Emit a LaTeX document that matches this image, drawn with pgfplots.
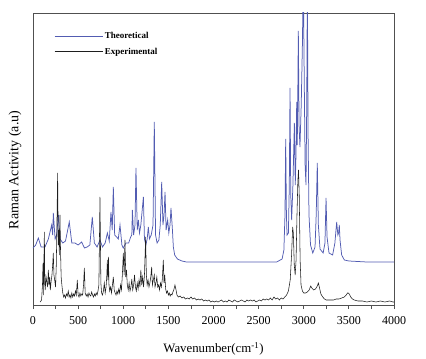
\documentclass[border=0pt]{standalone}
\usepackage{fontspec}
\setmainfont{Liberation Serif}
\usepackage{pgfplots}
\pgfplotsset{compat=1.18}
\definecolor{theo}{RGB}{82,92,178}
\definecolor{expc}{RGB}{30,30,30}
\definecolor{frame}{RGB}{80,80,80}
\begin{document}
\begin{tikzpicture}
\useasboundingbox (-33pt,-54pt) rectangle (393pt,305pt);
\begin{axis}[
  at={(0,0)}, anchor=south west,
  scale only axis, width=361pt, height=292pt,
  xmin=0, xmax=4000, ymin=0, ymax=292,
  axis line style={frame, line width=0.9pt},
  xtick={0,500,...,4000}, minor x tick num=1,
  xtick pos=bottom, ytick=\empty,
  tick align=outside, major tick length=4pt, minor tick length=4pt,
  tick style={frame, line width=0.8pt},
  /pgf/number format/assume math mode=true,
  /pgf/number format/1000 sep={},
  xticklabel style={font=\fontsize{12}{14}\selectfont, yshift=-4pt},
  xlabel={Wavenumber(cm\textsuperscript{-1})},
  xlabel style={font=\fontsize{12.8}{14}\selectfont, at={(axis description cs:0.5,0)}, anchor=center, yshift=-44pt},
  ylabel={Raman Activity (a.u)},
  ylabel style={font=\fontsize{14}{16}\selectfont, at={(axis description cs:0,0.5)}, anchor=center, yshift=18pt, xshift=-11pt},
  legend cell align=left,
  legend style={draw=none, fill=none, at={(axis description cs:0.058,0.942)}, anchor=north west,
    font=\bfseries\fontsize{9}{10}\selectfont, row sep=4pt, inner sep=0pt,
    /tikz/every even column/.append style={column sep=5pt}},
  legend image code/.code={\draw[#1] (0pt,0pt) -- (48pt,0pt);},
]
\addplot[theo, line width=0.75pt] coordinates {
(0,57) (30,60) (59,67) (90,58) (133,58) (170,66) (207,80) (218,70) (225,92) (245,66)
(262,70) (281,90) (300,66) (330,62) (360,64) (402,83) (430,62) (465,62) (500,60) (539,63)
(570,57) (600,58) (630,60) (657,88) (680,62) (710,58) (742,65) (770,58) (800,62) (824,72)
(845,64) (864,93) (878,75) (890,118) (905,70) (927,68) (945,66) (964,80) (985,60) (1000,57)
(1030,62) (1060,62) (1082,68) (1095,70) (1101,95) (1115,70) (1130,80) (1141,137) (1155,75) (1168,85)
(1180,72) (1195,80) (1210,95) (1223,108) (1235,66) (1250,60) (1265,66) (1278,78) (1290,66) (1310,70)
(1330,80) (1344,183) (1358,70) (1375,62) (1395,65) (1410,80) (1426,123) (1440,80) (1452,90) (1463,113)
(1475,75) (1492,85) (1505,72) (1518,80) (1529,97) (1545,75) (1555,58) (1570,50) (1600,46) (1650,44)
(1700,43) (2000,43) (2400,43) (2700,43) (2760,46) (2780,55) (2792,90) (2800,166) (2808,90) (2815,70)
(2830,72) (2840,120) (2848,217) (2856,110) (2866,85) (2880,120) (2896,182) (2906,120) (2914,150) (2922,203)
(2928,160) (2933,200) (2940,274) (2948,180) (2958,158) (2972,200) (2985,260) (2995,330) (3005,230) (3015,140)
(3025,120) (3033,200) (3040,320) (3048,170) (3058,90) (3075,60) (3100,52) (3125,58) (3138,90) (3150,142)
(3162,80) (3180,56) (3215,52) (3235,62) (3247,107) (3258,68) (3280,52) (3320,50) (3345,62) (3365,83)
(3378,70) (3386,72) (3394,80) (3402,65) (3420,50) (3450,45) (3500,44) (3700,43) (4000,43)
};
\addlegendentry{Theoretical}
\addplot[expc, line width=0.55pt] coordinates {
(80,3) (95,5) (105,20) (110,40) (114,42) (118,10) (122,50) (126,73) (130,30) (135,15)
(145,28) (155,22) (162,18) (170,35) (178,20) (185,28) (192,15) (200,23) (210,30) (218,40)
(225,52) (232,30) (240,25) (250,18) (258,40) (265,80) (273,132) (280,60) (286,75) (292,50)
(299,90) (305,55) (312,28) (320,20) (330,12) (340,8) (350,10) (360,7) (370,11) (380,9)
(391,14) (400,8) (410,10) (420,7) (430,12) (440,8) (450,11) (460,9) (470,14) (480,10)
(491,25) (500,10) (510,8) (520,12) (530,9) (540,11) (550,10) (560,20) (569,37) (578,12)
(590,9) (600,11) (610,8) (620,12) (630,10) (640,9) (650,13) (660,10) (670,8) (680,11)
(690,9) (700,12) (710,10) (720,14) (730,20) (742,108) (752,22) (760,12) (770,10) (780,14)
(790,22) (800,12) (810,18) (818,30) (824,45) (830,25) (836,48) (842,20) (850,14) (860,18)
(870,12) (880,20) (890,28) (900,15) (910,12) (920,10) (930,14) (940,11) (950,16) (960,12)
(970,20) (980,15) (990,30) (1001,52) (1010,30) (1019,65) (1028,28) (1036,35) (1045,20) (1055,15)
(1065,22) (1075,14) (1085,18) (1095,26) (1105,15) (1115,20) (1125,30) (1135,18) (1145,14) (1155,22)
(1165,16) (1175,25) (1185,18) (1195,35) (1205,20) (1215,28) (1225,18) (1235,30) (1248,68) (1256,30)
(1265,20) (1275,25) (1285,18) (1295,22) (1305,28) (1315,38) (1323,20) (1333,25) (1344,30) (1352,18)
(1362,22) (1372,28) (1382,18) (1392,20) (1402,15) (1412,22) (1422,18) (1432,25) (1444,45) (1452,22)
(1460,30) (1470,16) (1480,12) (1490,14) (1500,10) (1510,12) (1520,9) (1530,11) (1540,10) (1550,13)
(1560,15) (1573,20) (1585,15) (1595,10) (1610,8) (1630,9) (1650,7) (1670,8) (1690,6) (1710,7)
(1730,6) (1750,8) (1770,6) (1790,7) (1810,5) (1830,6) (1850,5) (1870,6) (1890,4) (1910,5)
(1930,4) (1950,5) (1970,3) (1990,4) (2010,3) (2030,4) (2050,3) (2070,4) (2090,5) (2110,3)
(2130,4) (2150,3) (2170,5) (2190,4) (2210,3) (2230,5) (2250,4) (2270,3) (2290,4) (2310,5)
(2330,4) (2350,3) (2370,5) (2390,4) (2410,5) (2430,4) (2450,5) (2470,3) (2490,4) (2510,5)
(2530,4) (2550,6) (2570,5) (2590,6) (2610,5) (2630,7) (2650,5) (2670,8) (2690,6) (2710,7)
(2730,5) (2750,7) (2770,6) (2790,8) (2810,10) (2830,14) (2850,25) (2865,50) (2877,78) (2885,72)
(2895,40) (2905,30) (2915,45) (2925,90) (2935,125) (2942,135) (2950,110) (2960,45) (2970,20) (2985,14)
(3000,12) (3020,12) (3040,13) (3060,15) (3077,19) (3090,17) (3110,15) (3130,16) (3150,19) (3162,22)
(3175,17) (3190,11) (3210,8) (3230,6) (3250,5) (3270,5) (3300,5) (3330,5) (3360,6) (3390,6)
(3420,7) (3450,8) (3470,10) (3485,12) (3494,12) (3505,11) (3520,8) (3540,6) (3560,5) (3600,4)
(3650,4) (3700,3) (3750,4) (3800,3) (3850,4) (3900,3) (3950,4) (3990,3) (4000,3)
};
\addlegendentry{Experimental}
\end{axis}
\end{tikzpicture}
\end{document}
